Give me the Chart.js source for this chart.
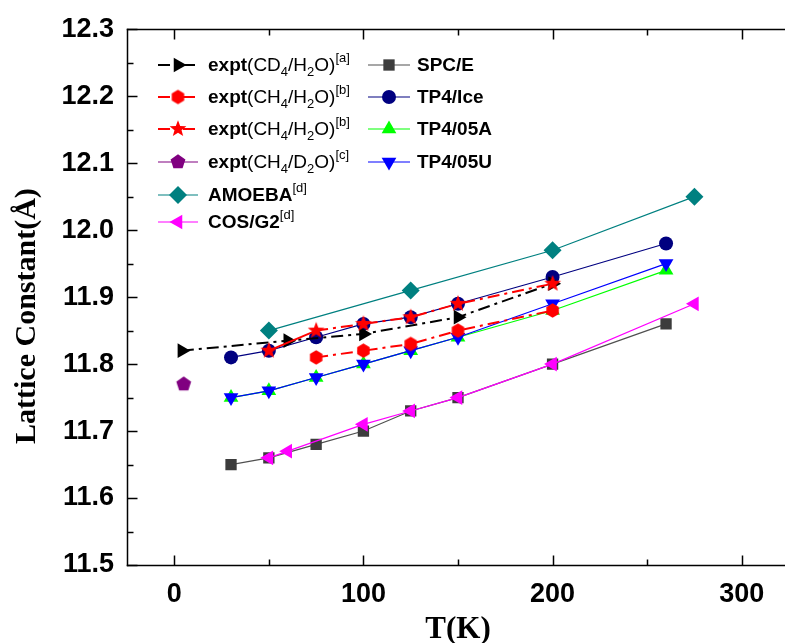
<!DOCTYPE html>
<html>
<head>
<meta charset="utf-8">
<script src="https://cdn.jsdelivr.net/npm/chart.js@4.4.0/dist/chart.umd.min.js"></script>
<style>
  html, body { margin: 0; padding: 0; background: #fff; overflow: hidden; }
  /* a little wider than the window: the x axis runs off the right edge */
  #wrap { width: 789px; height: 643px; position: relative; }
  #lattice { display: block; }
</style>
</head>
<body>
<div id="wrap"><canvas id="lattice"></canvas></div>
<script>
// temperature (K) / lattice constant (Å) for each set
const exptCD4T  = [4, 60, 100, 150, 200];
const exptCD4A  = [11.82, 11.835, 11.845, 11.87, 11.92];
const exptHexT  = [75, 100, 125, 150, 200];
const exptHexA  = [11.81, 11.82, 11.83, 11.85, 11.88];
const exptStarT = [50, 75, 100, 125, 150, 200];
const exptStarA = [11.82, 11.85, 11.86, 11.87, 11.89, 11.92];
const exptD2OT  = [5];
const exptD2OA  = [11.77];
const amoebaT   = [50, 125, 200, 275];
const amoebaA   = [11.85, 11.91, 11.97, 12.05];
const cosT      = [50, 60, 100, 125, 150, 200, 275];
const cosA      = [11.66, 11.67, 11.71, 11.73, 11.75, 11.80, 11.89];
const modelT    = [30, 50, 75, 100, 125, 150, 200, 260];
const spceA     = [11.65, 11.66, 11.68, 11.70, 11.73, 11.75, 11.80, 11.86];
const tp4IceA   = [11.81, 11.82, 11.84, 11.86, 11.87, 11.89, 11.93, 11.98];
const tp405AA   = [11.75, 11.76, 11.78, 11.80, 11.82, 11.84, 11.88, 11.94];
const tp405UA   = [11.75, 11.76, 11.78, 11.80, 11.82, 11.84, 11.89, 11.95];

// axis ticks (every one gets a mark, only the listed ones get text)
const xTickValues = [0, 50, 100, 150, 200, 250, 300];
const xTickLabels = ['0', '100', '200', '300'];
const yTickValues = [11.5, 11.55, 11.6, 11.65, 11.7, 11.75, 11.8, 11.85, 11.9,
                     11.95, 12.0, 12.05, 12.1, 12.15, 12.2, 12.25, 12.3];
const yTickLabels = ['11.5', '11.6', '11.7', '11.8', '11.9', '12.0', '12.1', '12.2', '12.3'];
const yTitle = 'Lattice Constant(Å)';

// legend text: **bold**, _{sub}, ^{sup}
const legendLabels = [
  '**expt**(CD_{4}/H_{2}O)^{[a]}',
  '**expt**(CH_{4}/H_{2}O)^{[b]}',
  '**expt**(CH_{4}/H_{2}O)^{[b]}',
  '**expt**(CH_{4}/D_{2}O)^{[c]}',
  '**AMOEBA**^{[d]}',
  '**COS/G2**^{[d]}',
  '**SPC/E**',
  '**TP4/Ice**',
  '**TP4/05A**',
  '**TP4/05U**'
];

const SANS = '"Liberation Sans", Arial, sans-serif';
const SERIF = '"Liberation Serif", "Times New Roman", serif';
const DASHDOT = [12, 5, 3, 5];

// polygon / star markers drawn once into small canvases
function shapeMarker(n, r, color, star) {
  let size = Math.ceil(2 * r + 2);
  let c = document.createElement('canvas');
  c.width = size; c.height = size;
  let g = c.getContext('2d');
  let pts = star ? n * 2 : n;
  g.beginPath();
  for (let i = 0; i < pts; i++) {
    let ang = -Math.PI / 2 + i * 2 * Math.PI / pts;
    let rr = (star && i % 2) ? r * 0.42 : r;
    let px = size / 2 + Math.cos(ang) * rr, py = size / 2 + Math.sin(ang) * rr;
    if (i == 0) g.moveTo(px, py); else g.lineTo(px, py);
  }
  g.closePath();
  g.fillStyle = color;
  g.fill();
  return c;
}

const hexMark = shapeMarker(6, 7.2, '#ff0000');
const starMark = shapeMarker(5, 8.8, '#ff0000', true);
const pentMark = shapeMarker(5, 7.8, '#800080');

function pts(xs, ys) {
  return xs.map((x, i) => ({ x: x, y: ys[i] }));
}

function series(label, legendIdx, xs, ys, color, style, radius, rot, extra) {
  return Object.assign({
    label: label,
    legendIdx: legendIdx,
    data: pts(xs, ys),
    borderColor: color,
    backgroundColor: color,
    pointStyle: style,
    pointRadius: radius,
    pointHoverRadius: radius,
    pointRotation: rot,
    pointBorderWidth: 0,
    borderWidth: 1.2,
    tension: 0
  }, extra || {});
}

// first in list ends up on top
let datasets = [
  series('expt(CH4/H2O)[b] star', 2, exptStarT, exptStarA, '#ff0000', starMark, 8, 0, {
    borderWidth: 2,
    segment: { borderDash: ctx => ctx.p0DataIndex === 0 ? [] : DASHDOT }
  }),
  series('expt(CH4/H2O)[b]', 1, exptHexT, exptHexA, '#ff0000', hexMark, 7, 0, { borderWidth: 2, borderDash: DASHDOT }),
  series('expt(CD4/H2O)[a]', 0, exptCD4T, exptCD4A, '#000000', 'triangle', 8.5, 90, { borderWidth: 2, borderDash: DASHDOT }),
  series('COS/G2[d]', 5, cosT, cosA, '#ff00ff', 'triangle', 8.5, -90),
  series('AMOEBA[d]', 4, amoebaT, amoebaA, '#008080', 'rectRot', 9, 0),
  series('TP4/Ice', 7, modelT, tp4IceA, '#000080', 'circle', 7, 0),
  series('TP4/05U', 9, modelT, tp405UA, '#0000ff', 'triangle', 8.5, 180),
  series('TP4/05A', 8, modelT, tp405AA, '#00ff00', 'triangle', 8.5, 0),
  series('SPC/E', 6, modelT, spceA, '#3c3c3c', 'rect', 8, 0, { borderColor: '#505050' }),
  series('expt(CH4/D2O)[c]', 3, exptD2OT, exptD2OA, '#800080', pentMark, 7.5, 0)
];

function drawRich(ctx, text, x, y, size) {
  let re = /\*\*(.+?)\*\*|_\{(.+?)\}|\^\{(.+?)\}|([^*_^]+)/g, m;
  let small = Math.round(size * 0.66);
  while ((m = re.exec(text))) {
    let t, font, dy = 0;
    if (m[1]) { t = m[1]; font = 'bold ' + size + 'px ' + SANS; }
    else if (m[2]) { t = m[2]; font = small + 'px ' + SANS; dy = 6; }
    else if (m[3]) { t = m[3]; font = small + 'px ' + SANS; dy = -8; }
    else { t = m[4]; font = size + 'px ' + SANS; }
    ctx.font = font;
    ctx.fillText(t, x, y + dy);
    x += ctx.measureText(t).width;
  }
}

// two-column legend inside the plot
const legendPos = {
  cols: [{ x0: 158, x1: 198, text: 208 }, { x0: 368, x1: 410, text: 417 }],
  rowsLeft: [65, 97, 129, 162, 195, 222],
  rowsRight: [65, 97, 129, 162]
};

const legendPlugin = {
  id: 'richLegend',
  afterDraw(chart) {
    let ctx = chart.ctx;
    chart.data.datasets.forEach(ds => {
      let i = ds.legendIdx;
      let col = i < 6 ? legendPos.cols[0] : legendPos.cols[1];
      let y = i < 6 ? legendPos.rowsLeft[i] : legendPos.rowsRight[i - 6];
      ctx.save();
      ctx.strokeStyle = ds.borderColor;
      ctx.lineWidth = ds.borderWidth;
      ctx.setLineDash(ds.borderDash || (ds.segment ? DASHDOT : []));
      ctx.beginPath();
      ctx.moveTo(col.x0, y); ctx.lineTo(col.x1, y);
      ctx.stroke();
      ctx.setLineDash([]);
      ctx.fillStyle = ds.backgroundColor;
      Chart.helpers.drawPoint(ctx, {
        pointStyle: ds.pointStyle, radius: ds.pointRadius,
        rotation: ds.pointRotation, borderWidth: 0
      }, (col.x0 + col.x1) / 2, y);
      ctx.fillStyle = '#000';
      ctx.textBaseline = 'middle';
      ctx.textAlign = 'left';
      drawRich(ctx, legendLabels[i], col.text, y + 1, 19);
      ctx.restore();
    });
  }
};

function seg(ctx, x0, y0, x1, y1) {
  ctx.beginPath();
  ctx.moveTo(x0, y0);
  ctx.lineTo(x1, y1);
  ctx.stroke();
}

// axis frame (left, bottom, top), inward tick marks and the rotated y title
const framePlugin = {
  id: 'frameTicks',
  afterDraw(chart) {
    let ctx = chart.ctx, a = chart.chartArea;
    let xs = chart.scales.x, ys = chart.scales.y;
    let L = Math.round(a.left) + 0.5, T = Math.round(a.top) + 0.5, B = Math.round(a.bottom) + 0.5;
    ctx.save();
    // the frame is open on the right: keep that edge clear
    ctx.fillStyle = '#fff';
    ctx.fillRect(a.right - 2, T + 1, chart.width - a.right + 4, B - T - 2);
    ctx.setLineDash([]);
    ctx.strokeStyle = '#000';
    ctx.lineWidth = 1.5;
    ctx.lineCap = 'square';
    seg(ctx, L, T, chart.width + 2, T);
    seg(ctx, L, B, chart.width + 2, B);
    seg(ctx, L, T, L, B);
    ctx.lineCap = 'butt';
    xs.ticks.forEach(t => {
      let px = Math.round(xs.getPixelForValue(t.value)) + 0.5;
      let len = Math.round(t.value) % 100 === 0 ? 10 : 6;
      seg(ctx, px, B, px, B - len);
      seg(ctx, px, T, px, T + len);
    });
    ys.ticks.forEach(t => {
      let py = Math.round(ys.getPixelForValue(t.value)) + 0.5;
      let len = Math.round(t.value * 100) % 10 === 0 ? 10 : 6;
      seg(ctx, L, py, L + len, py);
    });

    ctx.translate(27, (a.top + a.bottom) / 2 + 19);
    ctx.rotate(-Math.PI / 2);
    ctx.fillStyle = '#000';
    ctx.font = 'bold 30px ' + SERIF;
    ctx.textAlign = 'center';
    ctx.textBaseline = 'middle';
    ctx.fillText(yTitle, 0, 0);
    ctx.restore();
  }
};

// no extra room reserved for the end tick labels
function noSidePadding(s) {
  s.paddingLeft = 0;
  s.paddingRight = 0;
}

new Chart(document.getElementById('lattice'), {
  type: 'line',
  data: { datasets: datasets },
  options: {
    responsive: true,
    maintainAspectRatio: false,
    animation: false,
    devicePixelRatio: 1,
    layout: { autoPadding: false, padding: { top: 27, right: 0, left: 0, bottom: 0 } },
    plugins: { legend: { display: false }, tooltip: { enabled: false } },
    scales: {
      x: {
        type: 'linear',
        min: -25,
        max: 325,
        afterBuildTicks: s => { s.ticks = xTickValues.map(v => ({ value: v })); },
        afterFit: s => { s.height = 78; noSidePadding(s); },
        grid: { display: false, drawTicks: false },
        border: { display: false },
        ticks: {
          autoSkip: false,
          maxRotation: 0,
          padding: 13,
          color: '#000',
          font: { family: SANS, size: 27, weight: 'bold' },
          callback: v => {
            let s = String(Math.round(v));
            return xTickLabels.includes(s) ? s : '';
          }
        },
        title: {
          display: true,
          text: 'T(K)',
          color: '#000',
          font: { family: SERIF, size: 31, weight: 'bold', lineHeight: 1 },
          padding: { top: 0, bottom: -2 }
        }
      },
      y: {
        min: 11.5,
        max: 12.3,
        afterBuildTicks: s => { s.ticks = yTickValues.map(v => ({ value: v })); },
        afterFit: s => { s.width = 127; },
        grid: { display: false, drawTicks: false },
        border: { display: false },
        ticks: {
          autoSkip: false,
          padding: 13,
          color: '#000',
          font: { family: SANS, size: 27, weight: 'bold' },
          callback: v => {
            let s = v.toFixed(1);
            return Math.round(v * 100) % 10 === 0 && yTickLabels.includes(s) ? s : '';
          }
        }
      }
    }
  },
  plugins: [legendPlugin, framePlugin]
});
</script>
</body>
</html>
